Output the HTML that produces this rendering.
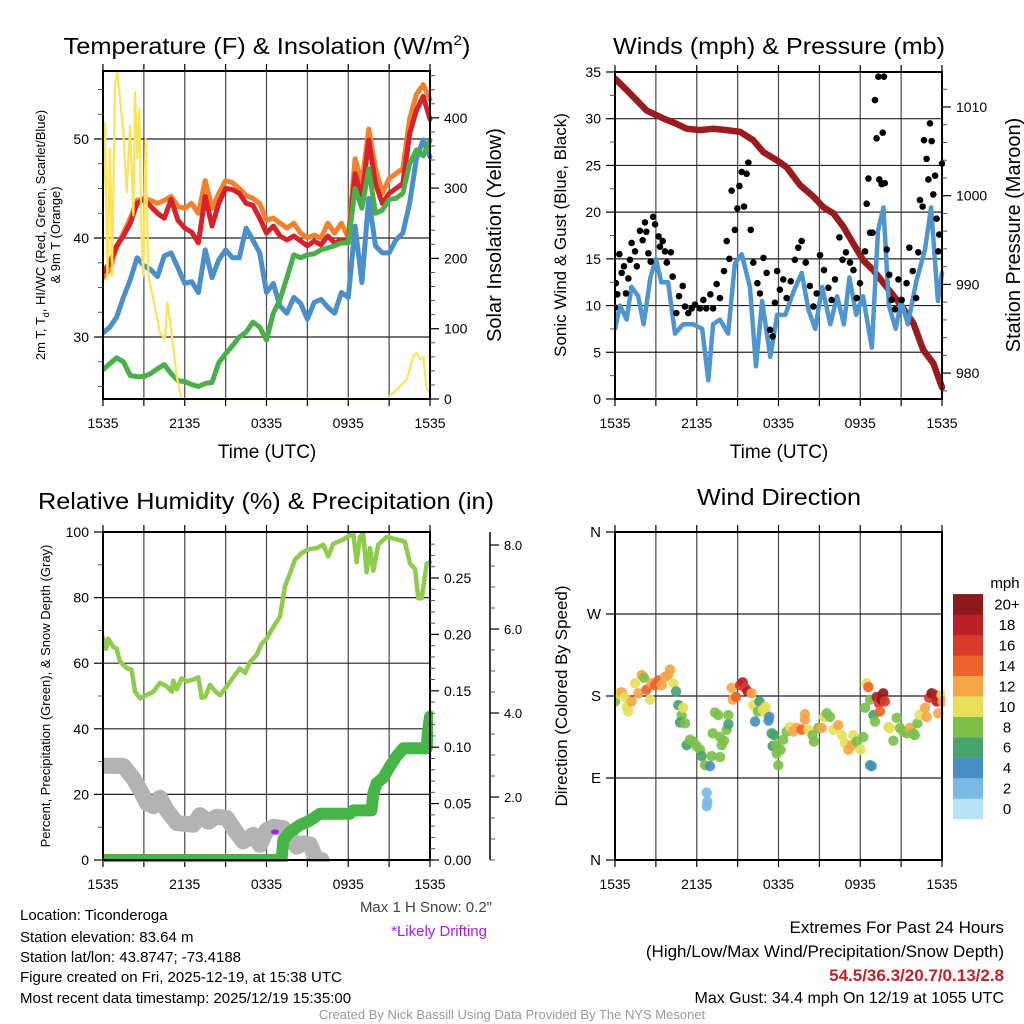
<!DOCTYPE html>
<html><head><meta charset="utf-8"><style>
html,body{margin:0;padding:0;background:#fff;}
svg{display:block;font-family:"Liberation Sans",sans-serif;}
</style></head><body>
<svg id="fig" width="1024" height="1024" viewBox="0 0 1024 1024" xmlns="http://www.w3.org/2000/svg">
<rect x="0" y="0" width="1024" height="1024" fill="#fff"/>
<text x="267" y="54" font-size="23" text-anchor="middle" textLength="407" lengthAdjust="spacingAndGlyphs">Temperature (F) &amp; Insolation (W/m<tspan dy="-9" font-size="14">2</tspan><tspan dy="9">)</tspan></text>
<text x="779" y="54" font-size="23" text-anchor="middle" textLength="332" lengthAdjust="spacingAndGlyphs">Winds (mph) &amp; Pressure (mb)</text>
<text x="266" y="509" font-size="23" text-anchor="middle" textLength="456" lengthAdjust="spacingAndGlyphs">Relative Humidity (%) &amp; Precipitation (in)</text>
<text x="779" y="505" font-size="23" text-anchor="middle" textLength="164" lengthAdjust="spacingAndGlyphs">Wind Direction</text>

<text x="267" y="458" font-size="19" text-anchor="middle">Time (UTC)</text>
<text x="779" y="458" font-size="19" text-anchor="middle">Time (UTC)</text>
<text transform="translate(45,235) rotate(-90)" font-size="13" text-anchor="middle">2m T, T<tspan dy="4" font-size="9">d</tspan><tspan dy="-4">, HI/WC (Red, Green, Scarlet/Blue)</tspan></text>
<text transform="translate(60,235) rotate(-90)" font-size="13" text-anchor="middle">&amp; 9m T (Orange)</text>
<text transform="translate(501,235) rotate(-90)" font-size="20" text-anchor="middle">Solar Insolation (Yellow)</text>
<text transform="translate(566,235) rotate(-90)" font-size="17" text-anchor="middle">Sonic Wind &amp; Gust (Blue, Black)</text>
<text transform="translate(1020,235) rotate(-90)" font-size="20" text-anchor="middle">Station Pressure (Maroon)</text>
<text transform="translate(50,696) rotate(-90)" font-size="13" text-anchor="middle">Percent, Precipitation (Green), &amp; Snow Depth (Gray)</text>
<text transform="translate(567,696) rotate(-90)" font-size="17" text-anchor="middle">Direction (Colored By Speed)</text>

<g font-size="15">
<text x="20" y="920">Location: Ticonderoga</text>
<text x="20" y="942">Station elevation: 83.64 m</text>
<text x="20" y="962">Station lat/lon: 43.8747; -73.4188</text>
<text x="20" y="982">Figure created on Fri, 2025-12-19, at 15:38 UTC</text>
<text x="20" y="1003">Most recent data timestamp: 2025/12/19 15:35:00</text>
</g>
<text x="492" y="912" font-size="15" fill="#444" text-anchor="end">Max 1 H Snow: 0.2"</text>
<text x="487" y="936" font-size="15" fill="#a020f0" text-anchor="end">*Likely Drifting</text>
<g font-size="17" text-anchor="end">
<text x="1004" y="933">Extremes For Past 24 Hours</text>
<text x="1004" y="957">(High/Low/Max Wind/Precipitation/Snow Depth)</text>
<text x="1004" y="981" font-weight="bold" fill="#c8202a">54.5/36.3/20.7/0.13/2.8</text>
<text x="1004" y="1003" font-size="16">Max Gust: 34.4 mph On 12/19 at 1055 UTC</text>
</g>
<text x="512" y="1019" font-size="13" fill="#999" text-anchor="middle">Created By Nick Bassill Using Data Provided By The NYS Mesonet</text>
<g id="plots"></g>
</svg>
<script>
// ---- time tick labels
const timeTickLabels = ["1535","2135","0335","0935","1535"];
const timeTickHours = [0,6,12,18,24];
// ---- panel 1 data
const tempHours = [0,0.5,1,1.5,2,2.5,3,3.5,4,4.5,5,5.5,6,6.5,7,7.5,8,8.5,9,9.5,10,10.5,11,11.5,12,12.5,13,13.5,14,14.5,15,15.5,16,16.5,17,17.5,18,18.5,19,19.5,20,20.5,21,21.5,22,22.5,23,23.5,24];
const temp2m = [36.5,37.5,39.2,40.2,41.5,43.5,43.9,43.2,42.5,42.0,43.9,41.8,41.0,40.6,39.5,44.2,41.2,43.5,45.0,44.9,44.5,43.5,43.3,42.0,40.5,41.2,40.2,39.8,40.2,39.7,39.2,39.7,39.3,40.2,39.5,39.8,39.7,46.5,44.0,49.9,45.5,43.5,44.5,45.0,45.5,50.5,52.9,54.3,52.0];
const temp9m = [36,36.8,39,40.5,42,43.8,44,43.8,43.5,43.8,44.2,43.2,43,43.5,42.5,45.8,43,44.5,45.8,45.6,45,44.3,44,43.5,41.8,42,41.5,41,41.5,40.5,40,40.3,40,41.5,40.5,41.5,40,48,45.5,51,47,44.5,46,46.5,47,52,54.5,55.5,54];
const windChill = [30.4,31,32,34,35.8,38,37.2,36.8,36.1,38.2,38.5,37,35.4,35.6,34.5,38.8,36,37.8,38.8,38,38,41,39.8,38.5,34.5,35.4,33.1,32.4,34,33.4,31.8,33.5,33.8,33,32.4,34.5,34,41.2,35.5,44,39.2,38.5,38.5,39.8,40.5,43.5,48,49.9,48.2];
const dewPoint = [26.7,27.3,27.9,27.5,26.1,26,26,26.3,26.8,27.2,26.3,25.6,25.5,25.2,25,25.3,25.4,27.4,28.3,29.1,30,30.5,31.5,31,29.7,32.4,33.8,36,38.3,38,38.3,38.4,38.8,39,39.2,39.5,39.5,45,43,47,42.5,42.8,43.9,44,44.5,47.5,48.9,48.3,49.9];
const insolHours = [0,0.15,0.32,0.51,0.66,0.88,1.05,1.25,1.49,1.74,1.98,2.23,2.35,2.52,2.67,2.84,2.96,3.13,3.33,3.69,4.18,4.55,4.72,4.92,5.41,5.77,20.82,21.31,21.8,22.29,22.78,23.02,23.27,23.51,23.76,24];
const insolation = [285,392,170,356,175,447,466,428,380,294,389,261,437,342,413,218,175,370,175,142,94,85,137,113,32,0,0,9,18,28,61,66,56,60,13,13];
// ---- panel 2 data
const windHours = [0,0.37,0.86,1.2,1.7,2.1,2.6,3.0,3.4,3.9,4.4,5.0,5.75,6.4,6.85,7.2,7.7,8.3,8.8,9.3,9.9,10.35,10.8,11.4,11.9,12.5,13.1,13.7,14.2,14.7,15.2,15.8,16.3,16.8,17.2,17.7,18.2,18.85,19.3,19.7,20.1,20.6,21.0,21.5,22.1,22.75,23.2,23.7,24];
const windSpeed = [7.5,10,8.5,12,11,8,13,15,12.5,12.5,7,8,8,7.5,2,8,8.5,7,14.5,15.5,12,3.5,10.5,4.5,9,9,11.5,13.5,9.5,7.5,12,8,11,8,13,9,11,5.5,18,20.5,10,7.5,10.5,8,12.5,16,20.5,10.5,13.5];
const gustHours = [0,0.07,0.17,0.32,0.49,0.66,0.8,0.98,1.1,1.22,1.47,1.6,1.83,2.03,2.2,2.3,2.45,2.62,2.8,2.94,3.2,3.3,3.5,3.67,3.8,4.1,4.23,4.5,4.7,4.97,5.14,5.38,5.63,5.87,6.24,6.48,6.7,7,7.2,7.46,7.7,8,8.2,8.39,8.56,8.8,8.98,9.13,9.3,9.47,9.66,9.79,9.96,10.15,10.45,10.64,10.9,11.13,11.38,11.57,11.74,11.9,12.1,12.35,12.6,12.9,13.2,13.45,13.7,14,14.3,14.56,14.8,15.05,15.34,15.66,15.9,16.15,16.47,16.7,16.95,17.25,17.5,17.74,17.98,18.35,18.47,18.6,18.72,18.9,19.08,19.2,19.33,19.4,19.57,19.65,19.74,19.8,19.94,20.13,20.3,20.55,20.8,21.04,21.4,21.6,21.85,22.1,22.26,22.38,22.58,22.68,22.87,23,23.12,23.24,23.36,23.49,23.6,23.73,23.8,24];
const gustSpeed = [9.8,12.4,11.2,15.5,13.5,14.2,11.3,12.9,14.9,16.7,15.8,14.2,18,17,18.9,17.9,15.6,14.7,19.5,18.7,17.4,16.3,16.9,15.8,14.6,15.7,13.1,9.2,11,12.1,9.9,9.2,9.7,10.1,9.7,10.6,9.7,11.2,9.7,12.3,10.8,13.7,16.9,15,22.3,18.1,20.4,22.8,24.3,20.6,24.1,25.3,18.1,14.6,12.4,11.3,15.1,13.5,7.4,6.7,10.3,13.7,11.7,12.8,10.8,12.6,14.9,16.2,16.9,14.6,12.1,9.9,11.3,15.4,13.8,11.9,10.6,12.8,17.3,14.9,15.7,14.6,13.8,10.8,12.4,15.8,20.9,23.6,17.8,17.8,32,27.9,34.5,23.5,23,28.5,34.5,23.1,16,13.3,10.6,9.6,12.8,10.6,12.4,16.2,13.7,10.8,15.7,21.3,20.6,27.7,25.7,23.5,29.5,27.6,21.9,23.9,19.3,15.8,17.6,25.2];
const presHours = [0,0.86,1.59,2.32,2.81,3.55,4.53,5.26,6.24,7.22,8.2,9.17,10.15,10.89,11.87,12.6,13.58,14.56,15.29,16.03,16.76,17.49,18.23,18.96,19.94,20.92,21.9,22.63,23.36,24];
const pressure = [1013.2,1011.9,1010.75,1009.6,1009.25,1008.7,1008.1,1007.55,1007.4,1007.55,1007.4,1007.2,1006.25,1004.9,1004,1003.2,1001.2,999.9,998.7,998,996.5,994.6,992.7,991.6,989.7,987.8,985.6,982.6,981.1,978.4];
// ---- panel 3 data
const rhHours = [0,0.22,0.39,0.76,1.0,1.25,1.74,2.1,2.35,2.72,3.21,3.7,4.18,4.67,5.04,5.16,5.41,5.77,6.14,6.63,7.0,7.24,7.49,7.85,8.22,8.59,9.08,9.56,10.05,10.42,10.79,11.28,11.65,12.01,12.38,12.99,13.36,13.73,14.09,14.58,15.07,15.68,16.17,16.53,16.9,17.63,18.24,18.37,18.61,18.86,19.1,19.35,19.59,19.84,20.2,20.82,21.31,21.8,22.16,22.53,22.9,23.14,23.39,23.76,24];
const relHum = [67.7,64.4,67.5,64.9,64.5,60.5,58.5,58,51.3,49.3,50.3,51.3,54,53,51.3,54.7,52,55.4,54.5,55,55.7,49.5,49.7,53.4,51.5,50.2,52.9,55.7,58.4,57,60.3,62.6,66,67.4,70.2,74.3,83.4,87.5,91.6,93.6,94.7,95.1,96.1,92.6,96.4,97.7,99.2,99.7,90.8,98.4,99.7,87.7,95.1,88.2,96.1,98.5,98,97.5,97,90.3,88.8,79.8,79.8,90.3,90.8];
const snowHours = [0,1.49,2.23,2.72,3.21,3.7,4.18,4.67,5.41,6.63,7.12,7.73,8.34,9.08,9.81,10.3,11.03,11.52,12.01,12.5,13.24,13.73,14.22,14.7,15.19,15.68,16.05];
const snowDepth = [2.74,2.74,2.44,2.17,1.86,1.78,1.98,1.69,1.38,1.34,1.57,1.41,1.53,1.5,1.14,0.94,1.1,0.86,1.21,1.29,1.26,1.06,0.82,0.9,0.87,0.5,0.5];
const precipHours = [0,13.1,13.24,13.73,14.46,15.19,15.92,18.12,18.37,19.71,19.84,20.08,20.57,21.06,21.55,22.04,23.76,23.83,24];
const precipAccum = [0,0,0.018,0.025,0.031,0.035,0.041,0.041,0.044,0.044,0.059,0.068,0.073,0.083,0.092,0.099,0.099,0.112,0.127];
const driftHours = [12.62];
const driftDepth = [1.17];
// ---- panel 4 data
const dirHours = [0,0.24,0.49,0.73,0.86,0.98,1.22,1.47,1.71,1.96,2.13,2.32,2.57,2.69,2.94,3.18,3.43,3.67,3.91,4.04,4.28,4.48,4.65,4.89,5.01,4.77,5.14,5.26,5.5,5.75,5.99,6.24,6.36,6.61,6.97,6.73,6.78,6.73,7.09,7.17,7.34,7.58,7.71,7.83,7.71,8.0,8.2,8.32,8.32,8.56,8.64,8.88,9.18,9.37,9.54,9.74,10.03,10.15,10.28,10.48,10.6,10.86,11.05,11.1,11.33,11.27,11.5,11.67,11.57,11.82,11.87,11.99,12.16,12.35,12.6,12.84,13.09,13.33,13.7,13.94,13.94,14.19,14.5,14.6,14.92,15.17,15.34,15.54,15.78,16.03,16.39,16.64,16.88,17.13,17.37,17.49,17.74,18.03,18.22,18.35,18.47,18.59,18.72,18.72,18.84,18.96,19.08,19.2,19.37,19.45,19.57,19.69,19.81,20.06,20.18,20.43,20.67,20.92,21.16,21.41,21.65,21.9,22.0,22.2,22.35,22.75,22.87,23.06,23.24,23.48,23.61,23.73,23.97,24.05];
const dirDegrees = [174,183,184,179,168,163,174,194,183,203,200,187,176,194,192,197,192,201,203,209,194,185,170,159,167,151,150,126,132,130,125,121,114,104,103,74,64,59,114,139,162,159,135,126,113,131,143,149,159,189,176,179,192,195,189,185,183,170,152,163,174,165,168,161,157,153,139,137,125,126,117,104,121,132,141,146,141,145,143,154,160,143,137,130,145,145,157,161,157,143,148,137,128,121,126,137,130,121,135,167,194,190,176,104,103,159,152,179,172,163,176,183,174,146,145,131,156,145,141,139,145,139,137,150,159,167,157,178,183,181,174,161,181,174,163];
const dirSpeed = [8,10,12,10,10,10,12,10,12,12,8,14,10,12,14,14,12,12,12,12,10,6,6,8,10,6,8,6,8,8,8,8,6,8,4,2,2,2,8,8,8,8,8,8,8,8,8,6,8,12,12,14,16,18,16,18,12,10,4,8,6,10,10,10,4,4,6,6,6,8,8,8,8,8,8,10,12,12,14,12,12,10,8,8,8,12,10,8,8,10,12,10,10,12,12,10,8,10,8,8,10,14,8,6,4,6,8,18,16,14,20,20,16,10,10,8,8,8,8,8,12,8,8,8,10,12,12,16,20,18,18,12,10,12,16];
const speedBinLabels = ["0","2","4","6","8","10","12","14","16","18","20+"];
const speedBinColors = ["#b6e3f7","#7ab9e4","#4a8ec8","#47a36b","#7cc04b","#e6df5a","#f6a547","#ec622c","#da3a2b","#ba2027","#8c1a1d"];

const NS = "http://www.w3.org/2000/svg";
const root = document.getElementById("plots");
function mk(tag, attrs, parent){ const e=document.createElementNS(NS,tag); for(const k in attrs) e.setAttribute(k,attrs[k]); (parent||root).appendChild(e); return e; }

function makeX(x0){ return t => x0 + t/24*327; }
const P1 = {x0:103,x1:430,y0:71,y1:399};
const P2 = {x0:615,x1:942,y0:72,y1:399};
const P3 = {x0:103,x1:430,y0:532,y1:860};
const P4 = {x0:615,x1:942,y0:532,y1:860};
const x1f = makeX(P1.x0), x2f = makeX(P2.x0), x3f = makeX(P3.x0), x4f = makeX(P4.x0);
const tempY = v => 139 + (50 - v)*9.9;
const insY = v => 399 - v*0.703;
const windY = v => 399 - v*9.343;
const presY = p => 107 + (1010 - p)*8.87;
const rhY = v => 860 - v*3.28;
const precY = v => 860 - v*1128;
const snowY = v => 881 - v*42;
const dirY = d => 860 - d*328/360;

function frame(P, name, hGrid, xf){
  const g = mk("g",{});
  
  
  for(let h=3; h<24; h+=3){
    const l = mk("line",{x1:xf(h),x2:xf(h),y1:P.y0,y2:P.y1,stroke:"#555","stroke-width":1.3},g);
    
    
  }
  hGrid.forEach(y=>{
    const l = mk("line",{x1:P.x0,x2:P.x1,y1:y,y2:y,stroke:"#222","stroke-width":1.2},g);
    
    
  });
  for(let h=0; h<=24; h+=3){
    const l = mk("line",{x1:xf(h),x2:xf(h),y1:P.y1,y2:P.y1+7,stroke:"#000","stroke-width":1.2},g);
    
    
    const l2 = mk("line",{x1:xf(h),x2:xf(h),y1:P.y0,y2:P.y0-7,stroke:"#000","stroke-width":1.2},g);
    
    
  }
  timeTickHours.forEach((h,i)=>{
    const t = mk("text",{x:xf(h),y:P.y1+29,"font-size":14,"text-anchor":"middle"},g);
    t.textContent = timeTickLabels[i];
    
    
  });
  return g;
}
function frameBox(P, name){
  const r = mk("rect",{x:P.x0,y:P.y0,width:P.x1-P.x0,height:P.y1-P.y0,fill:"none",stroke:"#000","stroke-width":2});
  
  
}
function yTicks(P, side, vals, labels, yf, name, minor, fs){
  const g = mk("g",{});
  
  
  const xa = side==="left"?P.x0:P.x1, dir = side==="left"?-1:1;
  (minor||[]).forEach(v=>{
    const l = mk("line",{x1:xa,x2:xa+dir*5,y1:yf(v),y2:yf(v),stroke:"#555","stroke-width":1},g);
    
    
  });
  vals.forEach((v,i)=>{
    const l = mk("line",{x1:xa,x2:xa+dir*9,y1:yf(v),y2:yf(v),stroke:"#000","stroke-width":1.2},g);
    
    
    const t = mk("text",{x:xa+dir*14,y:yf(v)+5,"font-size":fs||14,"text-anchor":side==="left"?"end":"start"},g);
    t.textContent = labels[i];
    
    
  });
}
function pts(xs, ys, xf, yf){ return xs.map((h,i)=>xf(h).toFixed(1)+","+yf(ys[i]).toFixed(1)).join(" "); }
function line(xs, ys, xf, yf, color, w, name){
  const p = mk("polyline",{points:pts(xs,ys,xf,yf),fill:"none",stroke:color,"stroke-width":w,"stroke-linejoin":"round","stroke-linecap":"round"});
  
  
  return p;
}
function clipFor(P, id){
  const cp = mk("clipPath",{id:id});
  mk("rect",{x:P.x0,y:P.y0-2,width:P.x1-P.x0+3,height:P.y1-P.y0+4},cp);
}

// ===== Panel 1
frame(P1,"temp",[tempY(30),tempY(40),tempY(50)],x1f);
clipFor(P1,"c1");
const s1 = mk("g",{"clip-path":"url(#c1)"});


[[temp9m,"#f47f2d","temp-9m-line"],[temp2m,"#d6222a","temp-2m-line"],[windChill,"#4a8fc9","wind-chill-line"],[dewPoint,"#48b048","dewpoint-line"]].forEach(s=>{
  const p = line(tempHours,s[0],x1f,tempY,s[1],5,s[2]); s1.appendChild(p);
});
s1.appendChild(line(insolHours,insolation,x1f,insY,"#fde35a",2.2,"insolation-line"));
frameBox(P1,"temp");
yTicks(P1,"left",[30,40,50],["30","40","50"],tempY,"temp-y-axis",[25,27.5,32.5,35,37.5,42.5,45,47.5,52.5,55],14);
yTicks(P1,"right",[0,100,200,300,400],["0","100","200","300","400"],insY,"insolation-y-axis",[20,40,60,80,120,140,160,180,220,240,260,280,320,340,360,380,420,440,460],14);

// ===== Panel 2
const g2 = [5,10,15,20,25,30].map(windY);
frame(P2,"wind",g2,x2f);
clipFor(P2,"c2");
const s2 = mk("g",{"clip-path":"url(#c2)"});


s2.appendChild(line(presHours,pressure,x2f,presY,"#9a1b1d",6.5,"pressure-line"));
s2.appendChild(line(windHours,windSpeed,x2f,windY,"#4e96d0",4.5,"wind-speed-line"));
gustHours.forEach((h,i)=>{
  const c = mk("circle",{cx:x2f(h),cy:windY(gustSpeed[i]),r:3.3,fill:"#000"},s2);
  
  
});
frameBox(P2,"wind");
yTicks(P2,"left",[0,5,10,15,20,25,30,35],["0","5","10","15","20","25","30","35"],windY,"wind-y-axis",[2.5,7.5,12.5,17.5,22.5,27.5,32.5],14);
yTicks(P2,"right",[980,990,1000,1010],["980","990","1000","1010"],presY,"pressure-y-axis",[978,982,984,986,988,992,994,996,998,1002,1004,1006,1008,1012],14);

// ===== Panel 3
frame(P3,"humidity",[20,40,60,80].map(rhY),x3f);
clipFor(P3,"c3");
const s3 = mk("g",{"clip-path":"url(#c3)"});


s3.appendChild(line(rhHours,relHum,x3f,rhY,"#8fcb4d",4.5,"relative-humidity-line"));
s3.appendChild(line(snowHours,snowDepth,x3f,snowY,"#b3b3b3",16,"snow-depth-line"));
s3.appendChild(line(precipHours,precipAccum,x3f,precY,"#46b446",12,"precipitation-line"));
driftHours.forEach((h,i)=>{
  const e = mk("ellipse",{cx:x3f(h),cy:snowY(driftDepth[i]),rx:4,ry:2.5,fill:"#a020f0"},s3);
  
  
});
frameBox(P3,"humidity");
yTicks(P3,"left",[0,20,40,60,80,100],["0","20","40","60","80","100"],rhY,"humidity-y-axis",[10,30,50,70,90],14);
yTicks(P3,"right",[0,0.05,0.1,0.15,0.2,0.25],["0.00","0.05","0.10","0.15","0.20","0.25"],precY,"precip-y-axis",[0.01,0.02,0.03,0.04,0.06,0.07,0.08,0.09,0.11,0.12,0.13,0.14,0.16,0.17,0.18,0.19,0.21,0.22,0.23,0.24,0.26,0.27,0.28],14);
const SA = {x0:490,x1:490,y0:532,y1:860};
const snAx = mk("line",{x1:490,x2:490,y1:532,y2:860,stroke:"#000","stroke-width":1.5});


yTicks(SA,"right",[2,4,6,8],["2.0","4.0","6.0","8.0"],snowY,"snow-y-axis",[0.5,1,1.5,2.5,3,3.5,4.5,5,5.5,6.5,7,7.5],13);

// ===== Panel 4
frame(P4,"direction",[270,180,90].map(dirY),x4f);
clipFor(P4,"c4");
const s4 = mk("g",{"clip-path":"url(#c4)"});


dirHours.forEach((h,i)=>{
  const bin = Math.min(10, Math.floor(dirSpeed[i]/2));
  const c = mk("circle",{cx:x4f(h),cy:dirY(dirDegrees[i]),r:5.2,fill:speedBinColors[bin],"fill-opacity":0.92},s4);
  
  
});
frameBox(P4,"direction");
yTicks(P4,"left",[0,90,180,270,360],["N","E","S","W","N"],dirY,"direction-y-axis",[],15);

// colorbar
const cb = mk("g",{});


const cbt = mk("text",{x:1005,y:588,"font-size":15,"text-anchor":"middle"},cb);
cbt.textContent = "mph";


speedBinColors.forEach((c,i)=>{
  const yTop = 819 - (i+1)*20.45;
  const r = mk("rect",{x:953,y:yTop,width:30,height:20.6,fill:c},cb);
  
  
  const t = mk("text",{x:1007,y:yTop+15.5,"font-size":15,"text-anchor":"middle"},cb);
  t.textContent = speedBinLabels[i];
  
  
});
</script>
</body></html>
